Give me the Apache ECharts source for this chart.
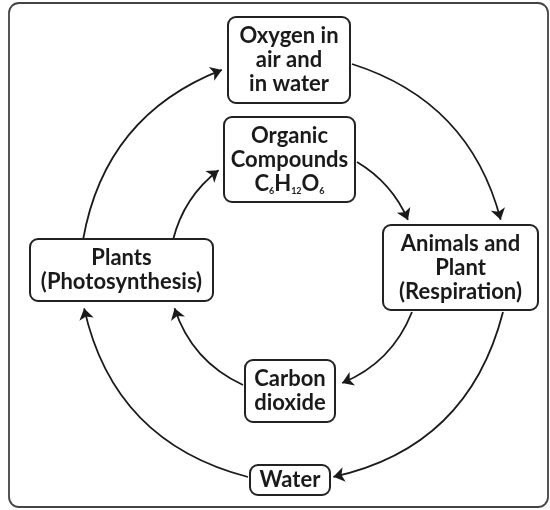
<!DOCTYPE html>
<html>
<head>
<meta charset="utf-8">
<script src="https://cdn.jsdelivr.net/npm/echarts@6/dist/echarts.min.js"></script>
<style>
html, body { margin: 0; padding: 0; background: #fff; }
#chart { width: 550px; height: 510px; }
</style>
</head>
<body>
<div id="chart"></div>
<script>
// boxes of the cycle and what they say
const boxNames = ['Oxygen', 'Organic', 'Plants', 'Animals', 'Carbon', 'Water']
const boxLabels = [
  'Oxygen in\nair and\nin water',
  'Organic\nCompounds\n{f|C}{s|6}{f|H}{s|12}{f|O}{s|6}',
  'Plants\n(Photosynthesis)',
  'Animals and\nPlant\n(Respiration)',
  'Carbon\ndioxide',
  'Water'
]
// arrows: from -> to (outer ring first, then inner ring)
const flowFrom = ['Plants', 'Oxygen', 'Animals', 'Water', 'Plants', 'Organic', 'Animals', 'Carbon']
const flowTo = ['Oxygen', 'Animals', 'Water', 'Plants', 'Organic', 'Animals', 'Carbon', 'Plants']

// layout (pixels): box centre x, y, width, height
const boxLayout = [
  [289, 60, 122, 86],
  [289.5, 159.5, 131, 85],
  [121.5, 270, 183, 62],
  [460.5, 267.5, 155, 85],
  [290, 391, 90, 62],
  [290, 480, 80, 30]
]
// layout: arrow start, arrow tip, curveness
const flowLayout = [
  [[83, 240], [227, 68], 0.288],
  [[352, 64], [502, 225], 0.282],
  [[503, 312], [328, 478], 0.314],
  [[248, 477], [83, 303], 0.312],
  [[173, 240], [223, 167], 0.186],
  [[357, 162], [410, 225], 0.173],
  [[412, 312], [337, 385], 0.223],
  [[243, 385], [173, 303], 0.23]
]

const LINE_H = 24
const ARROW = 11

const nodes = []
const links = []

for (let i = 0; i < flowFrom.length; i++) {
  const f = flowLayout[i]
  nodes.push({ name: 'a' + i, value: f[0], symbol: 'none', symbolSize: ARROW, label: { show: false } })
  nodes.push({ name: 'b' + i, value: f[1], symbol: 'none', symbolSize: ARROW, label: { show: false } })
  links.push({
    source: 'a' + i,
    target: 'b' + i,
    name: flowFrom[i] + ' > ' + flowTo[i],
    lineStyle: { curveness: f[2] }
  })
}

for (let i = 0; i < boxNames.length; i++) {
  const b = boxLayout[i]
  const lines = boxLabels[i].split('\n').length
  const padV = (b[3] - 2 - lines * LINE_H) / 2
  nodes.push({
    name: boxNames[i],
    value: [b[0], b[1]],
    symbol: 'circle',
    symbolSize: 1,
    itemStyle: { color: 'rgba(0,0,0,0)' },
    label: {
      show: true,
      position: 'inside',
      formatter: boxLabels[i],
      width: b[2] - 2,
      padding: [padV, 0, padV, 0]
    }
  })
}

const chart = echarts.init(document.getElementById('chart'))
chart.setOption({
  animation: false,
  backgroundColor: '#fff',
  grid: { left: 0, right: 0, top: 0, bottom: 0 },
  xAxis: { type: 'value', min: 0, max: 550, show: false },
  yAxis: { type: 'value', min: 0, max: 510, inverse: true, show: false },
  graphic: [{
    type: 'rect',
    z: -1,
    shape: { x: 9, y: 3, width: 539, height: 504, r: 10 },
    style: { fill: 'none', stroke: '#444', lineWidth: 1.8 }
  }],
  series: [{
    type: 'graph',
    layout: 'none',
    coordinateSystem: 'cartesian2d',
    emphasis: { disabled: true },
    edgeSymbol: ['none', 'arrow'],
    edgeSymbolSize: ARROW,
    lineStyle: { color: '#1a1a1a', width: 1.8, opacity: 1 },
    label: {
      color: '#1a1a1a',
      fontFamily: 'Lato',
      fontWeight: 'bold',
      fontSize: 22,
      lineHeight: LINE_H,
      align: 'center',
      backgroundColor: '#fff',
      borderColor: '#222',
      borderWidth: 2,
      borderRadius: 7,
      rich: {
        f: { fontFamily: 'Lato', fontWeight: 'bold', fontSize: 22, lineHeight: LINE_H, color: '#1a1a1a' },
        s: { fontFamily: 'Lato', fontWeight: 'bold', fontSize: 9, lineHeight: LINE_H, verticalAlign: 'bottom', color: '#1a1a1a' }
      }
    },
    data: nodes,
    links: links
  }]
})
</script>
</body>
</html>
